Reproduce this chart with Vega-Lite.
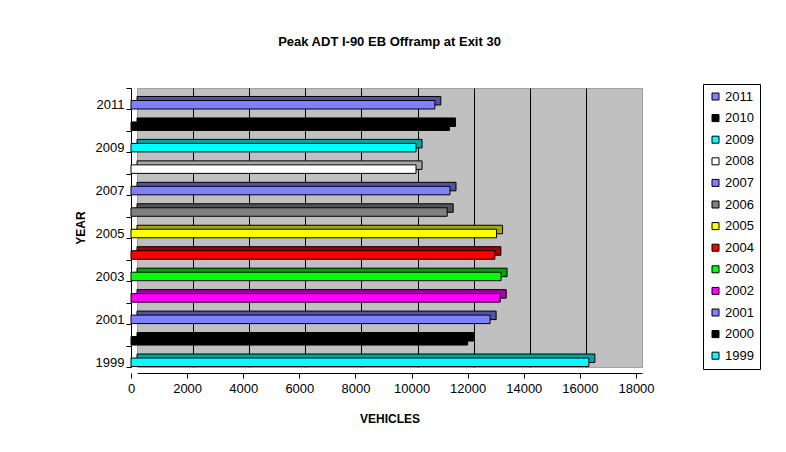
{
  "$schema": "https://vega.github.io/schema/vega-lite/v6.json",
  "width": 505,
  "height": 279,
  "autosize": "none",
  "padding": {"left": 137, "top": 88, "right": 144, "bottom": 85},
  "background": "white",
  "config": {
    "font": "Liberation Sans",
    "view": {"fill": "#C0C0C0", "stroke": "#A0A0A0"},
    "axis": {"labelColor": "black", "titleColor": "black", "labelFontSize": 13, "titleFontSize": 12, "titleFontWeight": "bold", "domainColor": "black", "tickColor": "black"}
  },
  "title": {"text": "Peak ADT I-90 EB Offramp at Exit 30", "fontSize": 13, "fontWeight": "bold", "color": "black", "offset": 33, "anchor": "middle"},
  "data": {
    "values": [
      {"year": "1999", "vehicles": 16320},
      {"year": "2000", "vehicles": 12000},
      {"year": "2001", "vehicles": 12800},
      {"year": "2002", "vehicles": 13160},
      {"year": "2003", "vehicles": 13190},
      {"year": "2004", "vehicles": 12970},
      {"year": "2005", "vehicles": 13030},
      {"year": "2006", "vehicles": 11270},
      {"year": "2007", "vehicles": 11370},
      {"year": "2008", "vehicles": 10160},
      {"year": "2009", "vehicles": 10160},
      {"year": "2010", "vehicles": 11350},
      {"year": "2011", "vehicles": 10830}
    ]
  },
  "layer": [
    {
      "mark": {"type": "bar", "height": 8.5, "xOffset": 0, "x2Offset": 0, "yOffset": 2, "y2Offset": 2, "stroke": "black", "strokeWidth": 1},
      "encoding": {
        "y": {"field": "year", "type": "ordinal", "sort": "descending", "scale": {"paddingInner": 0, "paddingOuter": 0}, "axis": null},
        "x": {"field": "vehicles", "type": "quantitative", "scale": {"domain": [0, 18000], "nice": false},
          "axis": {"orient": "top", "grid": true, "gridColor": "black", "gridWidth": 1, "gridOpacity": 1, "labels": false, "ticks": false, "domain": false, "title": null, "values": [2000, 4000, 6000, 8000, 10000, 12000, 14000, 16000]}},
        "color": {"field": "year", "type": "nominal",
          "scale": {"domain": ["2011", "2010", "2009", "2008", "2007", "2006", "2005", "2004", "2003", "2002", "2001", "2000", "1999"],
            "range": ["#8080FF", "#000000", "#00FFFF", "#FFFFFF", "#8080FF", "#808080", "#FFFF00", "#FF0000", "#00FF00", "#FF00FF", "#8080FF", "#000000", "#00FFFF"]},
          "legend": {"title": null, "orient": "none", "legendX": 566, "legendY": -4, "symbolType": "square", "symbolSize": 49, "symbolStrokeColor": "black", "symbolStrokeWidth": 1, "labelFontSize": 13, "labelColor": "black", "labelOffset": 3, "strokeColor": "black", "fillColor": "white", "padding": 6, "rowPadding": 7.6, "clipHeight": 13}}
      }
    },
    {
      "mark": {"type": "bar", "height": 8.5, "xOffset": 0, "x2Offset": 0, "yOffset": 2, "y2Offset": 2, "fill": "black", "fillOpacity": 0.35, "strokeWidth": 0},
      "encoding": {
        "y": {"field": "year", "type": "ordinal", "sort": "descending", "axis": null},
        "x": {"field": "vehicles", "type": "quantitative", "axis": null}
      }
    },
    {
      "mark": {"type": "bar", "height": 8.5, "xOffset": -6, "x2Offset": -6, "yOffset": 6, "y2Offset": 6, "stroke": "black", "strokeWidth": 1},
      "encoding": {
        "y": {"field": "year", "type": "ordinal", "sort": "descending",
          "axis": {"title": "YEAR", "tickBand": "extent", "tickOffset": 6, "labelOffset": 6, "offset": 6, "tickSize": 5, "labelPadding": 2, "titlePadding": 8, "labelExpr": "toNumber(datum.value) % 2 == 1 ? datum.label : ''"}},
        "x": {"field": "vehicles", "type": "quantitative",
          "axis": {"orient": "bottom", "title": "VEHICLES", "format": "d", "grid": false, "tickOffset": -6, "offset": 6, "tickSize": 5, "labelPadding": 4, "titlePadding": 18, "values": [0, 2000, 4000, 6000, 8000, 10000, 12000, 14000, 16000, 18000], "labelFlush": false}},
        "color": {"field": "year", "type": "nominal"}
      }
    }
  ],
  "resolve": {"axis": {"x": "independent", "y": "independent"}}
}
